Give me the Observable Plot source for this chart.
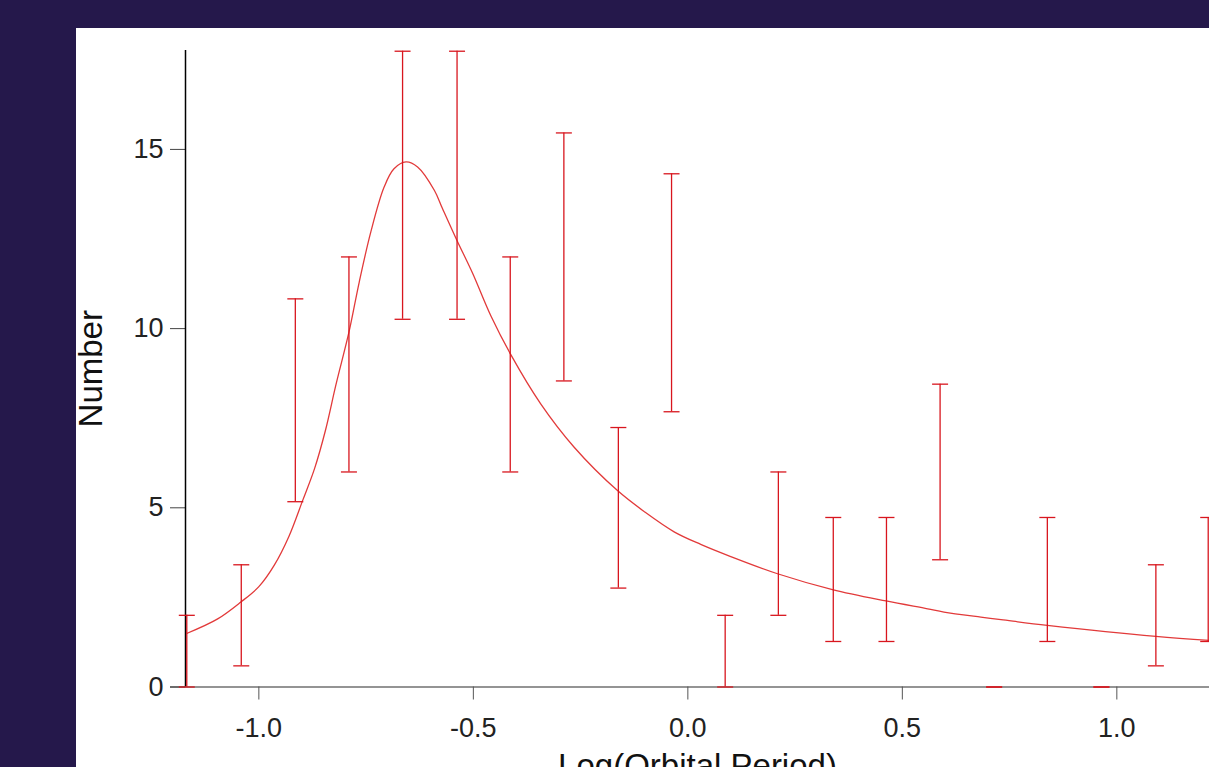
<!DOCTYPE html>
<html><head><meta charset="utf-8">
<script src="https://cdn.jsdelivr.net/npm/d3@7"></script>
<script src="https://cdn.jsdelivr.net/npm/@observablehq/plot@0.6"></script>
<style>
html,body{margin:0;padding:0;width:1209px;height:767px;overflow:hidden;background:#25184b;}
#panel{position:absolute;left:76px;top:28px;right:0;bottom:0;background:#fff;}
#chart{position:absolute;left:0;top:0;}
</style></head><body>
<div id="panel"></div><div id="chart"></div>
<script>
// bin centres, Log(Orbital Period)
const binCenters = [-1.168,-1.041,-0.915,-0.790,-0.665,-0.538,-0.414,-0.289,-0.162,-0.038,0.087,0.211,0.339,0.463,0.588,0.714,0.838,0.964,1.091,1.213];
// counts per bin
const counts = [1,2,8,9,14,14,9,12,5,11,1,4,3,3,6,0,3,0,2,3];
// error-bar half lengths
const errors = [1,1.41,2.83,3,3.74,3.74,3,3.46,2.24,3.32,1,2,1.73,1.73,2.45,0,1.73,0,1.41,1.73];
// fitted curve
const fitX = [-1.167,-1.096,-1.042,-1.000,-0.964,-0.930,-0.898,-0.870,-0.845,-0.820,-0.790,-0.766,-0.739,-0.708,-0.685,-0.657,-0.630,-0.591,-0.572,-0.539,-0.502,-0.459,-0.413,-0.343,-0.265,-0.164,-0.100,-0.032,0.030,0.100,0.209,0.337,0.462,0.559,0.597,0.683,0.730,0.838,1.091,1.215];
const fitY = [1.50,1.90,2.37,2.80,3.40,4.20,5.20,6.10,7.15,8.45,9.90,11.30,12.70,13.95,14.46,14.65,14.51,13.86,13.35,12.48,11.55,10.35,9.28,7.90,6.69,5.48,4.88,4.33,3.98,3.64,3.16,2.72,2.40,2.18,2.09,1.95,1.88,1.72,1.41,1.30];
const xTicks = [-1.0,-0.5,0.0,0.5,1.0];
const yTicks = [0,5,10,15];
const xDomain = [-1.171, 1.216];
const yDomain = [0, 17.76];
const xLabel = "Log(Orbital Period)";
const yLabel = "Number";

const bars = binCenters.map((x,i)=>({x, n:counts[i], lo:counts[i]-errors[i], hi:counts[i]+errors[i]}));
const fit = fitX.map((x,i)=>({x, y:fitY[i]}));
const capSymbol = {draw(ctx, size){ const r = Math.sqrt(size/Math.PI); ctx.moveTo(-r,0); ctx.lineTo(r,0); }};
const red = "#d8161e";

const chart = Plot.plot({
  width: 1209, height: 767,
  marginLeft: 185, marginRight: 0, marginTop: 50, marginBottom: 80.5,
  x: {domain: xDomain},
  y: {domain: yDomain},
  style: {background: "transparent", fontFamily: "'Liberation Sans', Arial, sans-serif", fontSize: "27px", overflow: "visible"},
  marks: [
    Plot.ruleY([0], {stroke: "#707070", strokeWidth: 1.5, insetLeft: -15}),
    Plot.axisX({ticks: xTicks, tickFormat: d => d.toFixed(1), tickSize: 13, tickPadding: 18, stroke: "#555", fill: "#222", label: null, fontSize: 27}),
    Plot.axisY({ticks: yTicks, tickFormat: d => String(d), tickSize: 15, tickPadding: 7, stroke: "#444", fill: "#222", label: null, fontSize: 27}),
    Plot.ruleX([xDomain[0]], {stroke: "#000", strokeWidth: 1.5}),
    Plot.line(fit, {x: "x", y: "y", stroke: "#e23a3a", strokeWidth: 1.3, curve: "catmull-rom"}),
    Plot.ruleX(bars, {x: "x", y1: "lo", y2: "hi", stroke: red, strokeWidth: 1.3}),
    Plot.dot(bars, {x: "x", y: "lo", symbol: capSymbol, r: 8, fill: "none", stroke: red, strokeWidth: 1.3}),
    Plot.dot(bars, {x: "x", y: "hi", symbol: capSymbol, r: 8, fill: "none", stroke: red, strokeWidth: 1.3}),
    Plot.text([yLabel], {frameAnchor: "left", textAnchor: "middle", lineAnchor: "middle", rotate: -90, dx: -94, fontSize: 33, fill: "#111"}),
    Plot.text([xLabel], {frameAnchor: "bottom", textAnchor: "middle", lineAnchor: "top", dy: 66.5, fontSize: 33, fill: "#111"})
  ]
});
document.getElementById("chart").appendChild(chart);
</script>
</body></html>
